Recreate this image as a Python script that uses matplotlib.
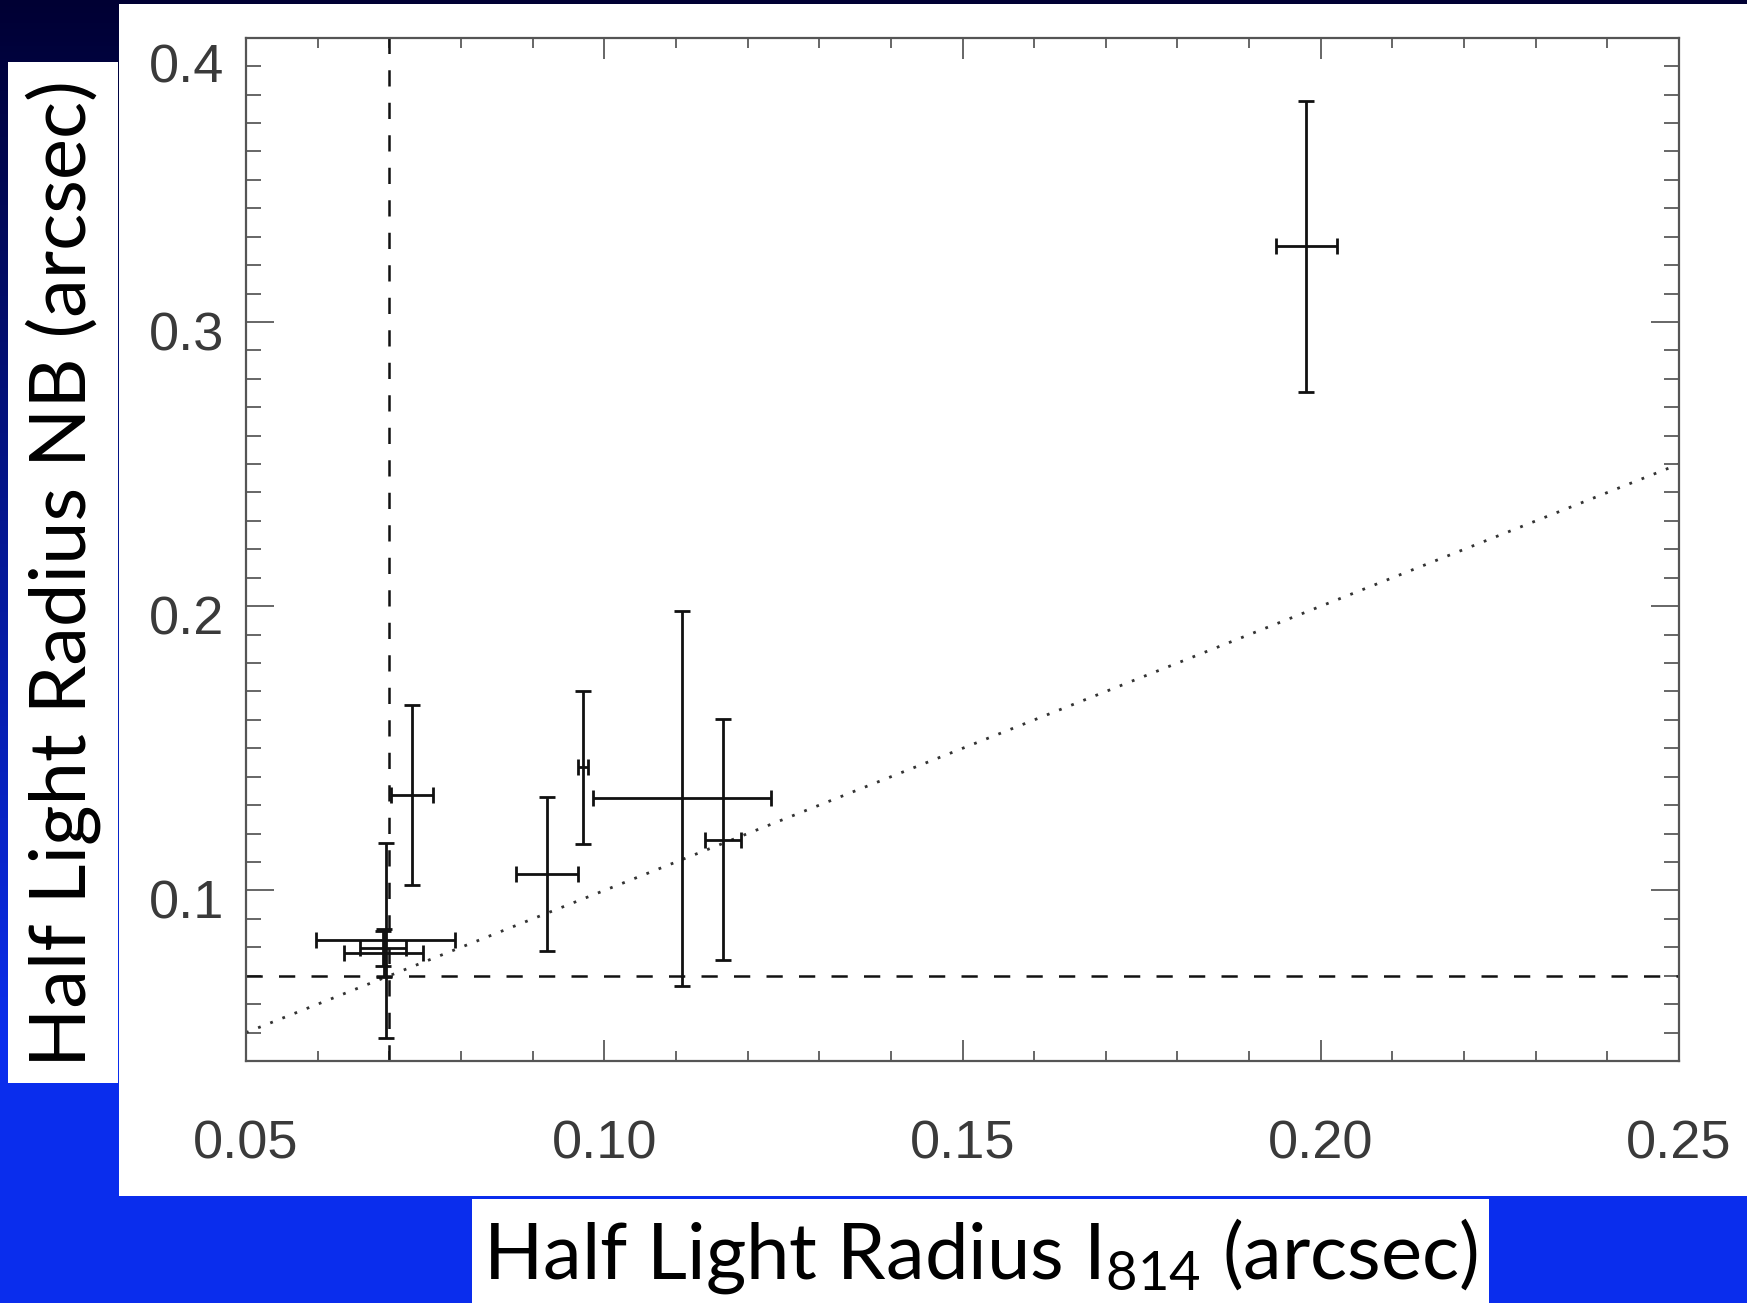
"""Half light radius NB vs I814, with size limits and the 1:1 line."""
import numpy as np
import matplotlib
matplotlib.use("Agg")
import matplotlib.pyplot as plt
from matplotlib.patches import Rectangle
from matplotlib.transforms import ScaledTranslation

# half light radii (arcsec)
r_i814 = [0.198, 0.0732, 0.0920, 0.0971, 0.1109, 0.1166, 0.0695, 0.0692, 0.0691]
r_nb = [0.3266, 0.1336, 0.1058, 0.1433, 0.1324, 0.1179, 0.0825, 0.0780, 0.0796]
err_i814 = [0.0042, 0.0029, 0.0043, 0.0007, 0.0124, 0.0025, 0.0097, 0.0055, 0.0032]
err_nb = [0.0511, 0.0318, 0.0272, 0.0268, 0.0659, 0.0423, 0.0343, 0.0083, 0.0063]

size_limit = 0.07          # resolution limit, both bands
one_to_one = [0.05, 0.25]  # x = y line end points
xticks = [0.05, 0.10, 0.15, 0.20, 0.25]
yticks = [0.1, 0.2, 0.3, 0.4]

plt.rcParams["mathtext.fontset"] = "custom"
plt.rcParams["mathtext.rm"] = "Lato"

fig = plt.figure(figsize=(17.47, 13.03), dpi=100)

# slide background: dark navy at the top to bright blue at the bottom
bg = fig.add_axes([0, 0, 1, 1], zorder=-10)
t = np.linspace(0, 1, 400)[:, None]
top = np.array([0.0, 0.0, 0.2])
bot = np.array([0.04, 0.18, 0.93])
mix = np.clip(t / 0.8, 0, 1)
grad = top + (bot - top) * mix[..., None]
bg.imshow(grad, aspect="auto", extent=[0, 1, 0, 1], origin="upper")
bg.set_axis_off()

# white panels behind plot and axis labels
for rect in [(0.0681, 0.0821, 0.9319, 0.9148),
             (0.0046, 0.1688, 0.0630, 0.7836),
             (0.2702, 0.0, 0.5821, 0.0798)]:
    fig.patches.append(Rectangle(rect[:2], rect[2], rect[3], transform=fig.transFigure,
                                 facecolor="white", edgecolor="none", zorder=-5))

ax = fig.add_axes([0.1408, 0.1857, 0.8203, 0.7854])
ax.set_xlim(0.05, 0.25)
ax.set_ylim(0.04, 0.40)

ax.errorbar(r_i814, r_nb, xerr=err_i814, yerr=err_nb, fmt="none", ecolor="#111111",
            elinewidth=2.0, capsize=5.8, capthick=2.0, zorder=3)
ax.axvline(size_limit, color="#111111", lw=1.8, dashes=(6.5, 6.5), zorder=2)
ax.axhline(size_limit, color="#111111", lw=1.8, dashes=(6.5, 6.5), zorder=2)
ax.plot(one_to_one, one_to_one, color="#333333", lw=2.0, dashes=(1, 3.7), zorder=2)

ax.set_xticks(xticks)
ax.set_xticklabels([f"{v:.2f}" for v in xticks])
ax.set_xticks(np.arange(0.05, 0.2501, 0.01), minor=True)
ax.set_yticks(yticks)
ax.set_yticklabels([f"{v:.1f}" for v in yticks])
ax.set_yticks(np.arange(0.04, 0.4001, 0.01), minor=True)

for sp in ax.spines.values():
    sp.set_color("#555555")
    sp.set_linewidth(1.6)
ax.tick_params(which="both", direction="in", top=True, right=True,
               color="#666666", width=1.4, labelcolor="#3a3a3a", labelsize=39)
ax.xaxis.set_tick_params(which="major", length=15, pad=42)
ax.xaxis.set_tick_params(which="minor", length=7)
ax.yaxis.set_tick_params(which="major", length=20, pad=16)
ax.yaxis.set_tick_params(which="minor", length=11)
for lab in ax.get_xticklabels() + ax.get_yticklabels():
    lab.set_fontfamily("Liberation Sans")
for lab, v in zip(ax.get_yticklabels(), yticks):
    dy = -0.25 if v >= 0.4 else -0.09
    lab.set_transform(lab.get_transform() + ScaledTranslation(0, dy, fig.dpi_scale_trans))

fig.text(0.561, 0.036, r"Half Light Radius I$\mathregular{_{814}}$ (arcsec)",
         family="Lato", fontsize=56, ha="center", va="center", color="black")
fig.text(0.036, 0.5595, "Half Light Radius NB (arcsec)", family="Lato", fontsize=56,
         rotation=90, ha="center", va="center", color="black")

fig.savefig("out.png", dpi=100)
print("wrote out.png")
